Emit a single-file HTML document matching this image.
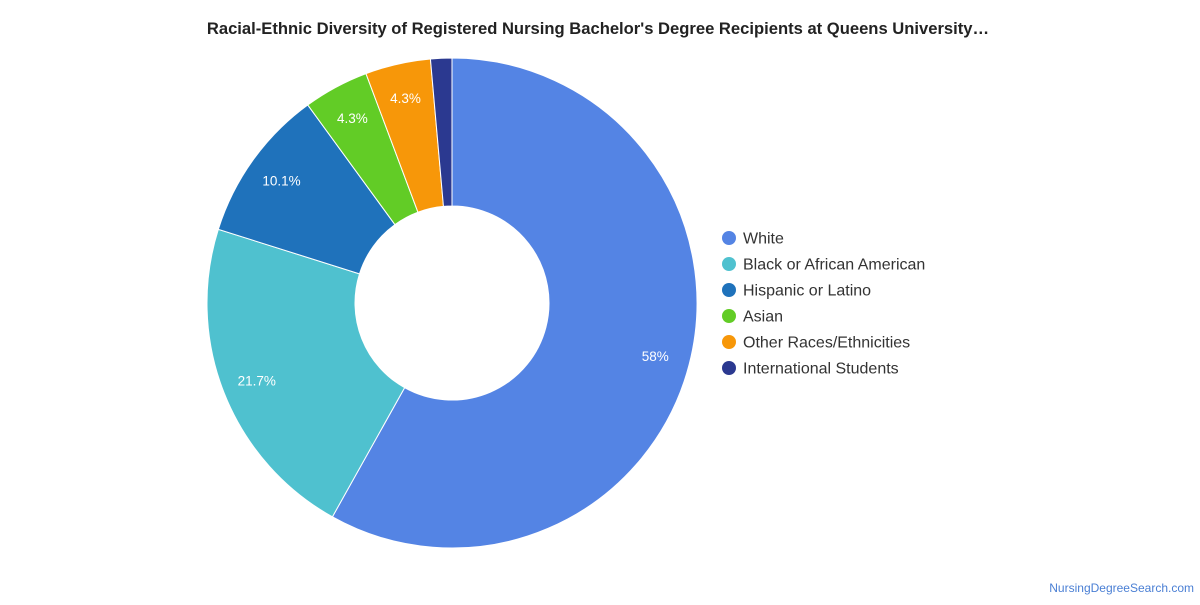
<!DOCTYPE html>
<html><head><meta charset="utf-8"><style>
body{margin:0;width:1200px;height:600px;background:#fff;font-family:"Liberation Sans",sans-serif;overflow:hidden}
</style></head><body>
<svg width="1200" height="600">
<text x="598" y="34" text-anchor="middle" font-size="16.6" font-weight="bold" fill="#222">Racial-Ethnic Diversity of Registered Nursing Bachelor's Degree Recipients at Queens University…</text>
<g id="slices"></g><g id="labels"></g><g id="legend"></g>
<text x="1194" y="592" text-anchor="end" font-size="12" fill="#4a7fd4">NursingDegreeSearch.com</text>
</svg>
<script>
const categories=["White","Black or African American","Hispanic or Latino","Asian","Other Races/Ethnicities","International Students"];
const values=[58,21.7,10.1,4.3,4.3,1.4];
const printed=["58%","21.7%","10.1%","4.3%","4.3%",""];
const colors=["#5484e4","#4fc1cf","#1f72bb","#62cc26","#f79709","#2b3990"];
const ns="http://www.w3.org/2000/svg";
const cx=452,cy=303,R=245,r=97,LR=210;
const total=values.reduce((a,b)=>a+b,0);
const sg=document.getElementById('slices'),lg=document.getElementById('labels'),leg=document.getElementById('legend');
function pt(a,rad){return [cx+rad*Math.sin(a),cy-rad*Math.cos(a)];}
let a0=0;
values.forEach((v,i)=>{
 const a1=a0+v/total*2*Math.PI;const big=(a1-a0)>Math.PI?1:0;
 const [x0,y0]=pt(a0,R),[x1,y1]=pt(a1,R),[x2,y2]=pt(a1,r),[x3,y3]=pt(a0,r);
 const p=document.createElementNS(ns,'path');
 p.setAttribute('d',`M${x0},${y0}A${R},${R} 0 ${big} 1 ${x1},${y1}L${x2},${y2}A${r},${r} 0 ${big} 0 ${x3},${y3}Z`);
 p.setAttribute('fill',colors[i]);p.setAttribute('stroke','#fff');p.setAttribute('stroke-width','1');
 
 
 sg.appendChild(p);
 if(printed[i]){const [lx,ly]=pt((a0+a1)/2,LR);
  const t=document.createElementNS(ns,'text');t.setAttribute('x',lx);t.setAttribute('y',ly+5);
  t.setAttribute('text-anchor','middle');t.setAttribute('font-size','13.5');t.setAttribute('fill','#fff');
  t.textContent=printed[i];
  
  
  lg.appendChild(t);}
 const g=document.createElementNS(ns,'g');
 
 
 const c=document.createElementNS(ns,'circle');c.setAttribute('cx',729);c.setAttribute('cy',238+26*i);c.setAttribute('r',7);c.setAttribute('fill',colors[i]);
 const t=document.createElementNS(ns,'text');t.setAttribute('x',743);t.setAttribute('y',243.5+26*i);t.setAttribute('font-size','16');t.setAttribute('fill','#333');t.textContent=categories[i];
 g.appendChild(c);g.appendChild(t);leg.appendChild(g);
 a0=a1;
});
</script>
</body></html>
